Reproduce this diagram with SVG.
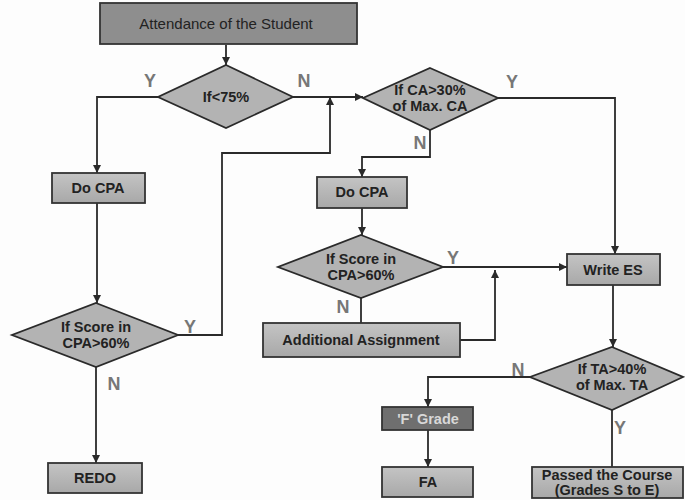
<svg xmlns="http://www.w3.org/2000/svg" width="685" height="500" viewBox="0 0 685 500">
<style>
.bx{fill:url(#g);stroke:#333;stroke-width:1.8}
.dm{fill:#b3b3b3;stroke:#2a2a2a;stroke-width:1.8}
.t{font-family:"Liberation Sans",Arial,sans-serif;font-size:14.5px;font-weight:bold;fill:#222;text-anchor:middle}
.yn{font-family:"Liberation Sans",Arial,sans-serif;font-size:18px;font-weight:bold;fill:#777;text-anchor:middle}
.ln{fill:none;stroke:#2a2a2a;stroke-width:1.8}
</style>
<defs>
<linearGradient id="g" x1="0" y1="0" x2="0" y2="1"><stop offset="0" stop-color="#c4c4c4"/><stop offset="1" stop-color="#a8a8a8"/></linearGradient>
<marker id="a" viewBox="0 0 10 10" refX="10" refY="5" markerWidth="8" markerHeight="8" orient="auto" markerUnits="userSpaceOnUse"><path d="M0,0L10,5L0,10z" fill="#2a2a2a"/></marker>
</defs>
<rect width="685" height="500" fill="#fdfdfd"/>
<g id="connectors">
<path class="ln" d="M226,45V65" marker-end="url(#a)"/>
<path class="ln" d="M158,97H97V173" marker-end="url(#a)"/>
<path class="ln" d="M97,203V303" marker-end="url(#a)"/>
<path class="ln" d="M96,367V463" marker-end="url(#a)"/>
<path class="ln" d="M178,335H222V153H330V97" marker-end="url(#a)"/>
<path class="ln" d="M293,97H363" marker-end="url(#a)"/>
<path class="ln" d="M498,98H615V254" marker-end="url(#a)"/>
<path class="ln" d="M430,130V157H362V177" marker-end="url(#a)"/>
<path class="ln" d="M362,208V235" marker-end="url(#a)"/>
<path class="ln" d="M443,267H567" marker-end="url(#a)"/>
<path class="ln" d="M361,298V323"/>
<path class="ln" d="M460,340H495V270" marker-end="url(#a)"/>
<path class="ln" d="M613,285V347" marker-end="url(#a)"/>
<path class="ln" d="M530,377H428V407" marker-end="url(#a)"/>
<path class="ln" d="M428,430V467" marker-end="url(#a)"/>
<path class="ln" d="M612,410V467"/>
<text class="yn" x="150" y="87">Y</text>
<text class="yn" x="304" y="87">N</text>
<text class="yn" x="512" y="88">Y</text>
<text class="yn" x="420" y="149">N</text>
<text class="yn" x="190" y="333">Y</text>
<text class="yn" x="114" y="390">N</text>
<text class="yn" x="453" y="264">Y</text>
<text class="yn" x="343" y="313">N</text>
<text class="yn" x="518" y="376">N</text>
<text class="yn" x="620" y="434">Y</text>
</g>
<g id="n_attendance"><rect x="100" y="3" width="257" height="41" fill="#8e8e8e" stroke="#333" stroke-width="1.8"/><text class="t" x="226" y="29" style="font-weight:normal;font-size:15px">Attendance of the Student</text></g>
<g id="n_if75"><polygon class="dm" points="226,65 293,97 226,128 158,97"/><text class="t" x="226" y="102">If&lt;75%</text></g>
<g id="n_docpa1"><rect class="bx" x="52" y="173" width="93" height="30"/><text class="t" x="98" y="193">Do CPA</text></g>
<g id="n_score1"><polygon class="dm" points="96,303 178,335 96,367 12,335"/><text class="t" x="96" y="332">If Score in</text><text class="t" x="96" y="348">CPA&gt;60%</text></g>
<g id="n_redo"><rect class="bx" x="48" y="463" width="94" height="30"/><text class="t" x="95" y="483">REDO</text></g>
<g id="n_ca"><polygon class="dm" points="430,68 498,98 430,130 363,98"/><text class="t" x="430" y="95">If CA&gt;30%</text><text class="t" x="430" y="111">of Max. CA</text></g>
<g id="n_docpa2"><rect class="bx" x="317" y="177" width="90" height="31"/><text class="t" x="362" y="197">Do CPA</text></g>
<g id="n_score2"><polygon class="dm" points="361,235 443,267 361,298 278,267"/><text class="t" x="361" y="264">If Score in</text><text class="t" x="361" y="280">CPA&gt;60%</text></g>
<g id="n_addl"><rect class="bx" x="263" y="323" width="197" height="34"/><text class="t" x="361" y="345">Additional Assignment</text></g>
<g id="n_writees"><rect class="bx" x="567" y="254" width="93" height="31"/><text class="t" x="613" y="275">Write ES</text></g>
<g id="n_ta"><polygon class="dm" points="612,347 683,377 612,410 530,377"/><text class="t" x="612" y="374">If TA&gt;40%</text><text class="t" x="612" y="390">of Max. TA</text></g>
<g id="n_fgrade"><rect x="382" y="407" width="91" height="23" fill="#6f6f6f" stroke="#333" stroke-width="1.8"/><text class="t" x="428" y="424" style="fill:#d8d8d8">'F' Grade</text></g>
<g id="n_fa"><rect class="bx" x="382" y="467" width="91" height="30"/><text class="t" x="428" y="487">FA</text></g>
<g id="n_passed"><rect class="bx" x="532" y="467" width="151" height="31"/><text class="t" x="607" y="480">Passed the Course</text><text class="t" x="607" y="495">(Grades S to E)</text></g>
</svg>
